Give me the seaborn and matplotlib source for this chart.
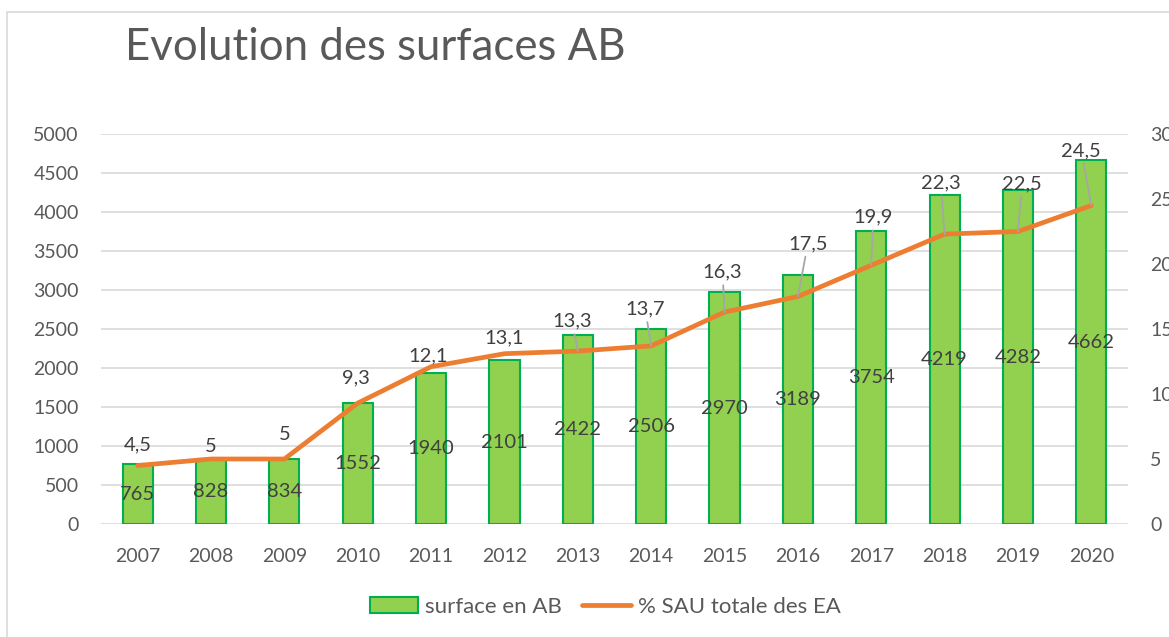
import matplotlib
matplotlib.use("Agg")
import matplotlib.pyplot as plt
from matplotlib.patches import Rectangle, Patch
from matplotlib.lines import Line2D
import numpy as np
import pandas as pd
import seaborn as sns

# data
years = ["2007", "2008", "2009", "2010", "2011", "2012", "2013",
         "2014", "2015", "2016", "2017", "2018", "2019", "2020"]
surface_ab = [765, 828, 834, 1552, 1940, 2101, 2422,
              2506, 2970, 3189, 3754, 4219, 4282, 4662]
pct_sau = [4.5, 5, 5, 9.3, 12.1, 13.1, 13.3,
           13.7, 16.3, 17.5, 19.9, 22.3, 22.5, 24.5]

# label placement (pixels from each line point) and whether a leader line is drawn
label_dx = [0, 0, 0, -2, -3, 0, -6, -6, -2, 10, 2, -4, 4, -10]
label_dy = [21, 13, 24, 25, 11, 16, 30, 37, 40, 53, 48, 51, 48, 55]
leader = [False] * 6 + [True] * 8

BAR_FILL = "#92D050"
BAR_EDGE = "#00B050"
LINE_COL = "#ED7D31"
TEXT_COL = "#595959"
GRID_COL = "#D9D9D9"

sns.set_style("white")
plt.rcParams["font.family"] = ["Lato", "DejaVu Sans"]
plt.rcParams["text.color"] = TEXT_COL

df = pd.DataFrame({"year": years, "surface": surface_ab, "pct": pct_sau})

fig = plt.figure(figsize=(11.69, 6.37), dpi=100)
ax = fig.add_axes([101 / 1169, 1 - 524 / 637, 1027 / 1169, 390 / 637])

sns.barplot(data=df, x="year", y="surface", ax=ax, color=BAR_FILL,
            width=0.41, edgecolor=BAR_EDGE, linewidth=1.5, saturation=1)
ax.bar_label(ax.containers[0], labels=[str(v) for v in surface_ab],
             label_type="center", fontsize=14.5, color="#404040")

ax.set_ylim(0, 5000)
ax.set_yticks(np.arange(0, 5001, 500))
ax.set_xlim(-0.5, len(years) - 0.5)
ax.yaxis.grid(True, color=GRID_COL, linewidth=1.2)
ax.set_axisbelow(True)
for s in ax.spines.values():
    s.set_visible(False)
ax.set_xlabel("")
ax.set_ylabel("")
ax.tick_params(axis="both", length=0, labelsize=14, labelcolor=TEXT_COL)
ax.tick_params(axis="y", pad=16)
ax.tick_params(axis="x", pad=17)

ax2 = ax.twinx()
pos = np.arange(len(years))
sns.lineplot(x=pos, y=pct_sau, ax=ax2, color=LINE_COL, linewidth=3.4,
             solid_capstyle="round")
ax2.set_ylim(0, 30)
ax2.set_yticks(np.arange(0, 31, 5))
ax2.set_ylabel("")
for s in ax2.spines.values():
    s.set_visible(False)
ax2.tick_params(axis="y", length=0, labelsize=14, labelcolor=TEXT_COL, pad=16)

for i, v in enumerate(pct_sau):
    txt = f"{v:g}".replace(".", ",")
    props = None
    if leader[i]:
        props = dict(arrowstyle="-", color="#A6A6A6", lw=1.3,
                     shrinkA=1, shrinkB=0)
    ax2.annotate(txt, xy=(pos[i], v), xytext=(label_dx[i], label_dy[i]),
                 textcoords="offset pixels", ha="center", va="center",
                 fontsize=14.5, color="#404040", arrowprops=props)

fig.text(125 / 1169, 1 - 47 / 637, "Evolution des surfaces AB",
         fontsize=31.5, color=TEXT_COL, ha="left", va="center")

handles = [Patch(facecolor=BAR_FILL, edgecolor=BAR_EDGE, linewidth=1.5),
           Line2D([], [], color=LINE_COL, linewidth=3.4, solid_capstyle="round")]
fig.legend(handles, ["surface en AB", "% SAU totale des EA"], loc="center",
           bbox_to_anchor=(605 / 1169, 1 - 607 / 637), ncol=2, frameon=False,
           fontsize=16, handlelength=2.2, handletextpad=0.3, columnspacing=0.9,
           labelcolor=TEXT_COL)

fig.patches.append(Rectangle((7 / 1169, -0.1), 1.2, 1.1 - 12 / 637,
                             transform=fig.transFigure, fill=False,
                             edgecolor=GRID_COL, linewidth=1.2))

fig.savefig("out.png", dpi=100)
